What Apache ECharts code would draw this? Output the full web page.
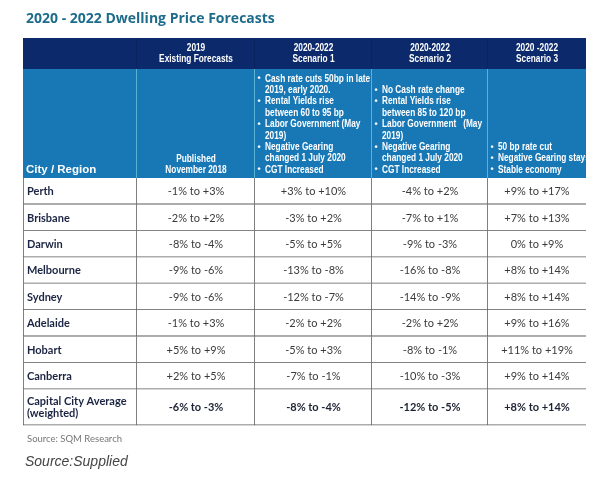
<!DOCTYPE html>
<html>
<head>
<meta charset="utf-8">
<script src="https://cdn.jsdelivr.net/npm/echarts@6/dist/echarts.min.js"></script>
<style>
html,body{margin:0;padding:0;background:#fff;}
#chart{width:600px;height:477px;}
</style>
</head>
<body>
<div id="chart"></div>
<script>
// ---------- DATA ----------
const titleText = '2020 - 2022 Dwelling Price Forecasts';
const sourceNote = 'Source: SQM Research';
const captionText = 'Source:Supplied';

const columnTitles = [
  ['', ''],
  ['2019', 'Existing Forecasts'],
  ['2020-2022', 'Scenario 1'],
  ['2020-2022', 'Scenario 2'],
  ['2020 -2022', 'Scenario 3']
];
const firstColumnLabel = 'City / Region';
const existingNote = ['Published', 'November 2018'];
const scenario1Assumptions = [
  'Cash rate cuts 50bp in late\n2019, early 2020.',
  'Rental Yields rise\nbetween 60 to 95 bp',
  'Labor Government (May\n2019)',
  'Negative Gearing\nchanged 1 July 2020',
  'CGT Increased'
];
const scenario2Assumptions = [
  'No Cash rate change',
  'Rental Yields rise\nbetween 85 to 120 bp',
  'Labor Government   (May\n2019)',
  'Negative Gearing\nchanged 1 July 2020',
  'CGT Increased'
];
const scenario3Assumptions = [
  '50 bp rate cut',
  'Negative Gearing stays',
  'Stable economy'
];

const cities = ['Perth', 'Brisbane', 'Darwin', 'Melbourne', 'Sydney', 'Adelaide', 'Hobart', 'Canberra', 'Capital City Average\n(weighted)'];
const existingLow  = [-1, -2, -8, -9, -9, -1, 5, 2, -6];
const existingHigh = [3, 2, -4, -6, -6, 3, 9, 5, -3];
const scenario1Low  = [3, -3, -5, -13, -12, -2, -5, -7, -8];
const scenario1High = [10, 2, 5, -8, -7, 2, 3, -1, -4];
const scenario2Low  = [-4, -7, -9, -16, -14, -2, -8, -10, -12];
const scenario2High = [2, 1, -3, -8, -9, 2, -1, -3, -5];
const scenario3Low  = [9, 7, 0, 8, 8, 9, 11, 9, 8];
const scenario3High = [17, 13, 9, 14, 14, 16, 19, 14, 14];

// ---------- LAYOUT ----------
const colEdges = [0, 114, 232, 349, 465, 563];
const headerEdges = [0, 31, 140];
const dataRowH = 26.4, lastRowH = 36;
const rowEdges = headerEdges.slice();
for (let i = 0; i < cities.length; i++) {
  rowEdges.push(rowEdges[rowEdges.length - 1] + (i === cities.length - 1 ? lastRowH : dataRowH));
}
const tableW = colEdges[colEdges.length - 1];
const tableH = rowEdges[rowEdges.length - 1];

const NAVY = '#0c2a6b', BLUE = '#1878b5';
const hdrFont = 'bold 10px "Liberation Sans",Arial,sans-serif';
const SQ = 0.83; // horizontal squeeze to mimic a narrow face
const body = 'Lato,"Open Sans",sans-serif';

function pct(v) { return (v > 0 ? '+' : '') + v + '%'; }
const lows = [existingLow, scenario1Low, scenario2Low, scenario3Low];
const highs = [existingHigh, scenario1High, scenario2High, scenario3High];
const assumptions = [null, null, scenario1Assumptions, scenario2Assumptions, scenario3Assumptions];

const cells = [];
for (let r = 0; r < rowEdges.length - 1; r++)
  for (let c = 0; c < colEdges.length - 1; c++) cells.push([c, r]);

function narrowText(text, x, y, align, lh) {
  return { type: 'text', x: x, y: y, scaleX: SQ, scaleY: 1,
    style: { text: text, x: 0, y: 0, align: align, verticalAlign: 'middle', fill: '#fff', font: hdrFont, lineHeight: lh || 11 } };
}

function renderItem(params, api) {
  const c = api.value(0), r = api.value(1);
  const p0 = api.coord([colEdges[c], rowEdges[r]]);
  const p1 = api.coord([colEdges[c + 1], rowEdges[r + 1]]);
  const x0 = p0[0], y0 = p0[1], x1 = p1[0], y1 = p1[1];
  const w = x1 - x0, h = y1 - y0;
  const kids = [];
  if (r === 0) {
    kids.push({ type: 'rect', shape: { x: x0, y: y0, width: w, height: h }, style: { fill: NAVY } });
    if (c > 0) kids.push(narrowText(columnTitles[c].join('\n'), x0 + w / 2, y0 + h / 2 + 0.5, 'center', 11));
    if (c < 4) kids.push({ type: 'line', shape: { x1: x1, y1: y0, x2: x1, y2: y1 }, style: { stroke: '#08204f', lineWidth: 1 } });
  } else if (r === 1) {
    kids.push({ type: 'rect', shape: { x: x0, y: y0, width: w, height: h }, style: { fill: BLUE } });
    if (c === 0) {
      kids.push({ type: 'text', style: { text: firstColumnLabel, x: x0 + 3, y: y1 - 8, align: 'left', verticalAlign: 'middle',
        fill: '#fff', font: 'bold 11.5px "Liberation Sans",Arial,sans-serif' } });
    } else if (c === 1) {
      kids.push(narrowText(existingNote.join('\n'), x0 + w / 2, y1 - 13.5, 'center', 11.4));
    } else {
      const lines = [];
      assumptions[c].forEach(b => b.split('\n').forEach((t, i) => lines.push({ t: t, bullet: i === 0 })));
      const lh = 11.4;
      const yLast = y1 - 8;
      lines.forEach((ln, i) => {
        const yy = yLast - (lines.length - 1 - i) * lh;
        if (ln.bullet) kids.push({ type: 'text', style: { text: '•', x: x0 + 2.5, y: yy, align: 'left', verticalAlign: 'middle', fill: '#fff', font: 'bold 9px "Liberation Sans",Arial,sans-serif' } });
        kids.push(narrowText(ln.t, x0 + 10, yy, 'left', lh));
      });
    }
    if (c < 4) kids.push({ type: 'line', shape: { x1: x1, y1: y0, x2: x1, y2: y1 }, style: { stroke: '#86d8ea', lineWidth: 1.2 } });
  } else {
    const i = r - 2;
    const last = i === cities.length - 1;
    kids.push({ type: 'rect', shape: { x: x0, y: y0, width: w, height: h }, style: { fill: '#ffffff' } });
    if (c === 0) {
      kids.push({ type: 'text', style: { text: cities[i], x: x0 + 4, y: y0 + h / 2 + 0.5, align: 'left', verticalAlign: 'middle',
        fill: '#1b2442', font: 'bold 11px ' + body, lineHeight: 12 } });
      kids.push({ type: 'line', shape: { x1: x0, y1: y0, x2: x0, y2: y1 }, style: { stroke: '#2a2a2a', lineWidth: 1.2 } });
    } else {
      const txt = pct(lows[c - 1][i]) + ' to ' + pct(highs[c - 1][i]);
      kids.push({ type: 'text', style: { text: txt, x: x0 + w / 2, y: y0 + h / 2 + 0.5, align: 'center', verticalAlign: 'middle',
        fill: last ? '#1e2233' : '#3b3b3b', font: (last ? 'bold ' : '') + '11px ' + body } });
    }
    if (c < 4) kids.push({ type: 'line', shape: { x1: x1, y1: y0, x2: x1, y2: y1 }, style: { stroke: '#2a2a2a', lineWidth: 1.2 } });
    kids.push({ type: 'line', shape: { x1: x0, y1: y1, x2: x1, y2: y1 }, style: { stroke: '#5a5a5a', lineWidth: 1.6 } });
  }
  return { type: 'group', children: kids };
}

const chart = echarts.init(document.getElementById('chart'), null, { renderer: 'canvas' });
chart.setOption({
  backgroundColor: '#ffffff',
  animation: false,
  title: [
    { text: titleText, left: 21, top: 7, textStyle: { color: '#1e6c8c', fontSize: 14, fontWeight: 'bold', fontFamily: '"Open Sans",Lato,sans-serif' } },
    { text: sourceNote, left: 22, top: 429, textStyle: { color: '#777', fontSize: 9.5, fontWeight: 'normal', fontFamily: body } },
    { text: captionText, left: 20, top: 450, textStyle: { color: '#444', fontSize: 14, fontStyle: 'italic', fontWeight: 'normal', fontFamily: '"Liberation Sans",Arial,sans-serif' } }
  ],
  grid: { left: 23, top: 38, width: tableW, height: tableH },
  xAxis: { type: 'value', min: 0, max: tableW, show: false },
  yAxis: { type: 'value', min: 0, max: tableH, inverse: true, show: false },
  series: [{
    type: 'custom',
    renderItem: renderItem,
    clip: true,
    data: cells
  }]
});
</script>
</body>
</html>
